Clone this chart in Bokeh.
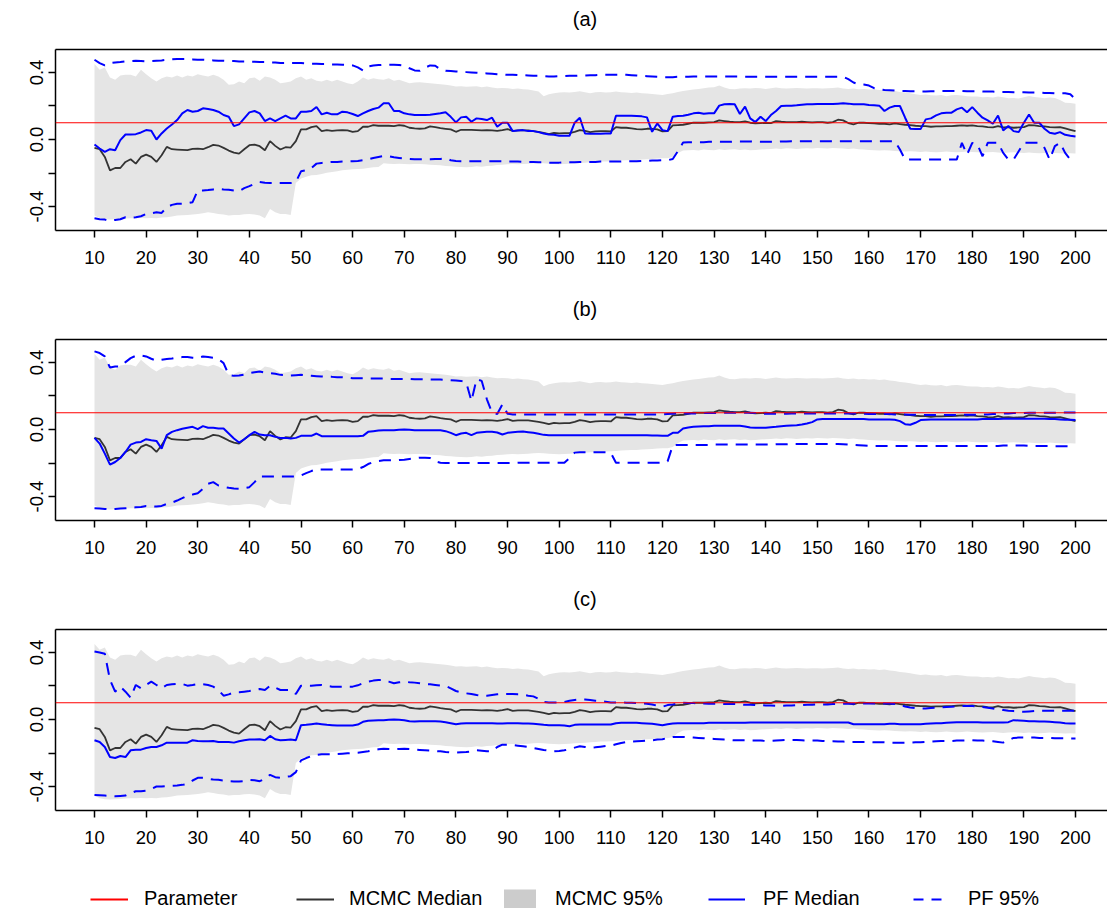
import numpy as np
from bokeh.plotting import figure
from bokeh.layouts import column
from bokeh.models import (ColumnDataSource, Span, FixedTicker, Range1d, Legend,
                          LegendItem, PrintfTickFormatter, Label, LinearAxis)
from bokeh.core.properties import value
from bokeh.embed import file_html
from bokeh.resources import INLINE

# ---------------------------------------------------------------- data
steps = list(range(10, 201))
parameter = 0.1
x_ticks = list(range(10, 201, 10))
y_label_ticks = [-0.4, 0.0, 0.4]
y_plain_ticks = [-0.2, 0.2]
panel_titles = ["(a)", "(b)", "(c)"]
legend_labels = ["Parameter", "MCMC Median", "MCMC 95%", "PF Median", "PF 95%"]

# MCMC posterior summaries (shared by all three panels)
mcmc_med = [
    -0.050, -0.058, -0.104, -0.184, -0.170, -0.170, -0.134, -0.118, -0.144, -0.104,
    -0.090, -0.104, -0.134, -0.094, -0.044, -0.058, -0.060, -0.062, -0.064, -0.056,
    -0.054, -0.058, -0.046, -0.032, -0.036, -0.050, -0.066, -0.078, -0.084, -0.058,
    -0.034, -0.030, -0.040, -0.064, -0.010, -0.038, -0.060, -0.046, -0.048, -0.010,
    0.060, 0.060, 0.074, 0.080, 0.050, 0.056, 0.052, 0.054, 0.056, 0.054,
    0.046, 0.050, 0.076, 0.076, 0.086, 0.082, 0.082, 0.082, 0.080, 0.086,
    0.082, 0.070, 0.066, 0.064, 0.066, 0.078, 0.074, 0.068, 0.064, 0.060,
    0.046, 0.058, 0.058, 0.058, 0.056, 0.054, 0.056, 0.054, 0.052, 0.056,
    0.062, 0.052, 0.054, 0.054, 0.054, 0.050, 0.046, 0.040, 0.032, 0.040,
    0.036, 0.038, 0.038, 0.046, 0.056, 0.052, 0.044, 0.048, 0.050, 0.050,
    0.048, 0.074, 0.070, 0.070, 0.066, 0.062, 0.060, 0.064, 0.064, 0.060,
    0.048, 0.050, 0.084, 0.086, 0.088, 0.094, 0.100, 0.100, 0.100, 0.102,
    0.104, 0.114, 0.110, 0.106, 0.104, 0.104, 0.108, 0.100, 0.096, 0.098,
    0.100, 0.098, 0.110, 0.106, 0.104, 0.104, 0.104, 0.106, 0.104, 0.102,
    0.104, 0.104, 0.100, 0.104, 0.118, 0.114, 0.098, 0.090, 0.100, 0.100,
    0.098, 0.096, 0.094, 0.094, 0.090, 0.096, 0.092, 0.088, 0.086, 0.082,
    0.080, 0.080, 0.076, 0.078, 0.078, 0.080, 0.080, 0.082, 0.084, 0.082,
    0.084, 0.080, 0.078, 0.074, 0.072, 0.080, 0.072, 0.074, 0.070, 0.072,
    0.074, 0.086, 0.084, 0.080, 0.078, 0.074, 0.072, 0.074, 0.066, 0.058,
    0.050,
]
mcmc_hi = [
    0.450, 0.416, 0.430, 0.370, 0.356, 0.382, 0.386, 0.386, 0.376, 0.416,
    0.390, 0.366, 0.346, 0.366, 0.376, 0.370, 0.382, 0.370, 0.382, 0.376,
    0.390, 0.382, 0.376, 0.386, 0.376, 0.356, 0.326, 0.330, 0.346, 0.336,
    0.366, 0.370, 0.350, 0.376, 0.370, 0.356, 0.336, 0.340, 0.346, 0.366,
    0.376, 0.356, 0.366, 0.350, 0.346, 0.356, 0.346, 0.356, 0.346, 0.336,
    0.330, 0.346, 0.370, 0.356, 0.366, 0.360, 0.356, 0.366, 0.350, 0.356,
    0.346, 0.336, 0.340, 0.342, 0.338, 0.336, 0.332, 0.330, 0.326, 0.322,
    0.316, 0.318, 0.314, 0.316, 0.318, 0.312, 0.316, 0.310, 0.306, 0.308,
    0.306, 0.302, 0.304, 0.300, 0.298, 0.292, 0.286, 0.258, 0.270, 0.276,
    0.280, 0.282, 0.280, 0.284, 0.288, 0.282, 0.276, 0.282, 0.284, 0.280,
    0.282, 0.286, 0.282, 0.280, 0.278, 0.280, 0.276, 0.274, 0.272, 0.268,
    0.266, 0.272, 0.276, 0.284, 0.290, 0.294, 0.298, 0.302, 0.306, 0.310,
    0.312, 0.322, 0.310, 0.302, 0.300, 0.304, 0.306, 0.304, 0.308, 0.306,
    0.302, 0.306, 0.310, 0.306, 0.304, 0.306, 0.308, 0.306, 0.304, 0.306,
    0.306, 0.304, 0.306, 0.308, 0.310, 0.304, 0.302, 0.304, 0.300, 0.302,
    0.298, 0.300, 0.296, 0.298, 0.292, 0.290, 0.284, 0.280, 0.276, 0.270,
    0.266, 0.268, 0.264, 0.262, 0.266, 0.258, 0.264, 0.266, 0.262, 0.258,
    0.256, 0.256, 0.252, 0.254, 0.250, 0.256, 0.252, 0.246, 0.248, 0.244,
    0.252, 0.260, 0.254, 0.250, 0.246, 0.250, 0.248, 0.236, 0.220, 0.218,
    0.214,
]
mcmc_lo = [
    -0.454, -0.470, -0.476, -0.478, -0.476, -0.474, -0.472, -0.470, -0.470, -0.468,
    -0.470, -0.468, -0.470, -0.466, -0.464, -0.460, -0.454, -0.452, -0.450, -0.448,
    -0.444, -0.440, -0.434, -0.438, -0.444, -0.448, -0.454, -0.450, -0.450, -0.446,
    -0.444, -0.448, -0.454, -0.470, -0.414, -0.434, -0.444, -0.444, -0.450, -0.260,
    -0.232, -0.222, -0.214, -0.212, -0.206, -0.198, -0.194, -0.190, -0.184, -0.180,
    -0.178, -0.176, -0.174, -0.170, -0.166, -0.164, -0.142, -0.144, -0.146, -0.144,
    -0.146, -0.148, -0.146, -0.146, -0.148, -0.150, -0.152, -0.154, -0.158, -0.160,
    -0.162, -0.164, -0.166, -0.164, -0.160, -0.162, -0.158, -0.156, -0.152, -0.150,
    -0.148, -0.146, -0.148, -0.146, -0.144, -0.142, -0.140, -0.142, -0.144, -0.146,
    -0.148, -0.146, -0.144, -0.142, -0.140, -0.138, -0.136, -0.134, -0.132, -0.132,
    -0.130, -0.128, -0.126, -0.124, -0.122, -0.122, -0.120, -0.118, -0.116, -0.114,
    -0.112, -0.112, -0.104, -0.080, -0.066, -0.064, -0.062, -0.066, -0.060, -0.062,
    -0.064, -0.058, -0.062, -0.060, -0.058, -0.062, -0.060, -0.064, -0.062, -0.060,
    -0.058, -0.056, -0.054, -0.056, -0.052, -0.054, -0.056, -0.054, -0.052, -0.054,
    -0.050, -0.052, -0.054, -0.050, -0.052, -0.054, -0.056, -0.054, -0.058, -0.060,
    -0.062, -0.064, -0.066, -0.064, -0.066, -0.068, -0.070, -0.072, -0.070, -0.072,
    -0.074, -0.072, -0.074, -0.076, -0.074, -0.072, -0.074, -0.076, -0.074, -0.072,
    -0.074, -0.076, -0.078, -0.076, -0.074, -0.078, -0.080, -0.078, -0.076, -0.078,
    -0.080, -0.078, -0.080, -0.082, -0.080, -0.078, -0.080, -0.082, -0.084, -0.082,
    -0.084,
]

# Particle-filter summaries, panel (a)
pfa_med = [
    -0.030, -0.054, -0.074, -0.058, -0.064, -0.004, 0.030, 0.030, 0.032, 0.042,
    0.056, 0.052, 0.000, 0.036, 0.066, 0.090, 0.116, 0.156, 0.176, 0.166,
    0.170, 0.186, 0.182, 0.176, 0.166, 0.146, 0.136, 0.080, 0.090, 0.126,
    0.162, 0.170, 0.156, 0.110, 0.126, 0.110, 0.126, 0.142, 0.126, 0.126,
    0.166, 0.166, 0.170, 0.194, 0.150, 0.160, 0.150, 0.150, 0.166, 0.162,
    0.152, 0.140, 0.156, 0.170, 0.182, 0.190, 0.216, 0.216, 0.170, 0.170,
    0.156, 0.150, 0.146, 0.146, 0.146, 0.148, 0.152, 0.156, 0.162, 0.135,
    0.102, 0.132, 0.136, 0.106, 0.126, 0.122, 0.116, 0.130, 0.076, 0.100,
    0.100, 0.050, 0.054, 0.056, 0.050, 0.050, 0.044, 0.036, 0.030, 0.028,
    0.022, 0.022, 0.022, 0.100, 0.130, 0.036, 0.034, 0.034, 0.034, 0.036,
    0.036, 0.142, 0.142, 0.142, 0.142, 0.140, 0.138, 0.132, 0.046, 0.096,
    0.056, 0.050, 0.136, 0.140, 0.142, 0.148, 0.156, 0.160, 0.154, 0.156,
    0.156, 0.202, 0.210, 0.212, 0.210, 0.152, 0.196, 0.126, 0.104, 0.136,
    0.110, 0.146, 0.170, 0.200, 0.202, 0.202, 0.204, 0.208, 0.210, 0.210,
    0.212, 0.212, 0.212, 0.212, 0.214, 0.216, 0.214, 0.210, 0.210, 0.210,
    0.206, 0.204, 0.202, 0.170, 0.190, 0.200, 0.200, 0.130, 0.064, 0.062,
    0.062, 0.120, 0.126, 0.144, 0.156, 0.160, 0.160, 0.180, 0.190, 0.163,
    0.193, 0.160, 0.130, 0.114, 0.094, 0.143, 0.054, 0.080, 0.050, 0.044,
    0.100, 0.149, 0.100, 0.100, 0.064, 0.040, 0.034, 0.044, 0.028, 0.022,
    0.018,
]
pfa_hi = [
    0.476, 0.456, 0.442, 0.456, 0.460, 0.462, 0.466, 0.468, 0.470, 0.468,
    0.466, 0.468, 0.470, 0.472, 0.476, 0.478, 0.480, 0.480, 0.480, 0.478,
    0.476, 0.476, 0.474, 0.472, 0.470, 0.470, 0.468, 0.468, 0.466, 0.466,
    0.464, 0.464, 0.462, 0.462, 0.460, 0.460, 0.456, 0.456, 0.456, 0.456,
    0.456, 0.454, 0.452, 0.452, 0.450, 0.450, 0.448, 0.448, 0.446, 0.446,
    0.442, 0.430, 0.412, 0.436, 0.442, 0.444, 0.446, 0.446, 0.446, 0.444,
    0.440, 0.425, 0.412, 0.410, 0.428, 0.442, 0.440, 0.418, 0.410, 0.408,
    0.406, 0.404, 0.402, 0.400, 0.398, 0.396, 0.394, 0.392, 0.390, 0.388,
    0.386, 0.386, 0.384, 0.384, 0.382, 0.380, 0.380, 0.378, 0.376, 0.376,
    0.378, 0.378, 0.380, 0.380, 0.382, 0.382, 0.384, 0.384, 0.386, 0.386,
    0.386, 0.386, 0.386, 0.386, 0.384, 0.382, 0.380, 0.378, 0.376, 0.374,
    0.372, 0.372, 0.372, 0.374, 0.374, 0.374, 0.376, 0.376, 0.376, 0.376,
    0.376, 0.376, 0.376, 0.376, 0.376, 0.376, 0.374, 0.374, 0.374, 0.374,
    0.374, 0.374, 0.374, 0.374, 0.374, 0.374, 0.374, 0.374, 0.374, 0.374,
    0.374, 0.374, 0.374, 0.374, 0.374, 0.374, 0.360, 0.340, 0.330, 0.328,
    0.322, 0.306, 0.300, 0.296, 0.294, 0.292, 0.290, 0.290, 0.288, 0.288,
    0.286, 0.286, 0.288, 0.288, 0.290, 0.290, 0.290, 0.290, 0.290, 0.288,
    0.288, 0.288, 0.286, 0.286, 0.286, 0.284, 0.284, 0.284, 0.282, 0.282,
    0.282, 0.280, 0.280, 0.280, 0.278, 0.278, 0.276, 0.276, 0.276, 0.270,
    0.240,
]
pfa_lo = [
    -0.470, -0.476, -0.478, -0.486, -0.480, -0.476, -0.464, -0.466, -0.464, -0.458,
    -0.444, -0.440, -0.434, -0.438, -0.404, -0.390, -0.384, -0.384, -0.380, -0.374,
    -0.304, -0.304, -0.302, -0.298, -0.294, -0.298, -0.300, -0.304, -0.308, -0.290,
    -0.278, -0.264, -0.254, -0.258, -0.260, -0.260, -0.260, -0.260, -0.260, -0.254,
    -0.190, -0.184, -0.170, -0.144, -0.140, -0.136, -0.134, -0.134, -0.132, -0.130,
    -0.130, -0.128, -0.124, -0.118, -0.110, -0.104, -0.098, -0.100, -0.106, -0.110,
    -0.114, -0.116, -0.118, -0.118, -0.118, -0.118, -0.116, -0.116, -0.112, -0.124,
    -0.128, -0.130, -0.130, -0.130, -0.130, -0.130, -0.130, -0.130, -0.130, -0.130,
    -0.132, -0.132, -0.132, -0.134, -0.134, -0.134, -0.136, -0.136, -0.138, -0.138,
    -0.138, -0.136, -0.136, -0.136, -0.134, -0.134, -0.134, -0.134, -0.132, -0.132,
    -0.132, -0.132, -0.132, -0.130, -0.130, -0.130, -0.128, -0.128, -0.126, -0.126,
    -0.124, -0.124, -0.116, -0.070, -0.018, -0.016, -0.016, -0.016, -0.016, -0.014,
    -0.014, -0.014, -0.014, -0.014, -0.012, -0.012, -0.012, -0.012, -0.014, -0.014,
    -0.014, -0.014, -0.014, -0.012, -0.012, -0.010, -0.010, -0.010, -0.010, -0.010,
    -0.010, -0.010, -0.010, -0.010, -0.010, -0.010, -0.010, -0.010, -0.010, -0.010,
    -0.010, -0.010, -0.010, -0.010, -0.010, -0.010, -0.060, -0.120, -0.120, -0.120,
    -0.120, -0.120, -0.120, -0.120, -0.120, -0.120, -0.120, -0.120, -0.020, -0.090,
    -0.020, -0.030, -0.100, -0.020, -0.020, -0.020, -0.080, -0.120, -0.120, -0.070,
    -0.020, -0.020, -0.020, -0.020, -0.050, -0.120, -0.040, -0.020, -0.080, -0.120,
    -0.120,
]

# Particle-filter summaries, panel (b)
pfb_med = [
    -0.050, -0.084, -0.144, -0.210, -0.194, -0.170, -0.134, -0.090, -0.078, -0.074,
    -0.058, -0.064, -0.068, -0.114, -0.034, -0.014, -0.004, 0.004, 0.010, 0.016,
    0.002, 0.020, 0.010, 0.010, 0.006, 0.006, -0.024, -0.054, -0.078, -0.058,
    -0.034, -0.014, -0.030, -0.034, -0.034, -0.044, -0.050, -0.050, -0.054, -0.050,
    -0.038, -0.038, -0.038, -0.024, -0.040, -0.040, -0.040, -0.040, -0.040, -0.040,
    -0.040, -0.040, -0.038, -0.014, -0.010, -0.006, -0.004, -0.004, -0.004, -0.002,
    0.000, -0.002, -0.004, -0.004, -0.004, -0.004, -0.004, -0.004, -0.010, -0.020,
    -0.034, -0.024, -0.020, -0.034, -0.020, -0.016, -0.014, -0.014, -0.018, -0.030,
    -0.020, -0.016, -0.014, -0.012, -0.016, -0.020, -0.026, -0.032, -0.034, -0.034,
    -0.034, -0.034, -0.034, -0.034, -0.034, -0.034, -0.034, -0.034, -0.034, -0.034,
    -0.034, -0.034, -0.034, -0.034, -0.034, -0.034, -0.034, -0.034, -0.036, -0.036,
    -0.038, -0.038, -0.020, -0.020, 0.006, 0.012, 0.016, 0.018, 0.020, 0.020,
    0.022, 0.022, 0.022, 0.022, 0.022, 0.022, 0.018, 0.012, 0.010, 0.010,
    0.010, 0.014, 0.016, 0.020, 0.022, 0.024, 0.026, 0.030, 0.036, 0.044,
    0.060, 0.062, 0.062, 0.062, 0.062, 0.062, 0.062, 0.062, 0.062, 0.062,
    0.060, 0.060, 0.060, 0.060, 0.060, 0.058, 0.050, 0.032, 0.028, 0.040,
    0.056, 0.058, 0.060, 0.060, 0.060, 0.060, 0.060, 0.060, 0.060, 0.060,
    0.060, 0.060, 0.062, 0.062, 0.062, 0.062, 0.064, 0.064, 0.064, 0.064,
    0.064, 0.064, 0.064, 0.064, 0.064, 0.062, 0.062, 0.060, 0.058, 0.058,
    0.056,
]
pfb_hi = [
    0.466, 0.456, 0.436, 0.370, 0.376, 0.376, 0.402, 0.426, 0.440, 0.442,
    0.436, 0.422, 0.410, 0.416, 0.420, 0.424, 0.430, 0.432, 0.432, 0.428,
    0.426, 0.436, 0.432, 0.428, 0.420, 0.396, 0.326, 0.320, 0.322, 0.328,
    0.336, 0.342, 0.346, 0.340, 0.336, 0.332, 0.326, 0.324, 0.322, 0.324,
    0.326, 0.322, 0.320, 0.318, 0.316, 0.314, 0.314, 0.312, 0.312, 0.310,
    0.306, 0.306, 0.306, 0.304, 0.304, 0.304, 0.304, 0.302, 0.302, 0.302,
    0.302, 0.302, 0.300, 0.300, 0.300, 0.298, 0.298, 0.298, 0.296, 0.294,
    0.292, 0.290, 0.280, 0.170, 0.300, 0.290, 0.180, 0.100, 0.092, 0.150,
    0.094, 0.090, 0.090, 0.090, 0.090, 0.090, 0.090, 0.090, 0.090, 0.090,
    0.090, 0.090, 0.090, 0.090, 0.090, 0.090, 0.090, 0.090, 0.090, 0.090,
    0.090, 0.090, 0.090, 0.090, 0.090, 0.090, 0.090, 0.090, 0.090, 0.090,
    0.090, 0.092, 0.094, 0.096, 0.096, 0.096, 0.096, 0.096, 0.098, 0.098,
    0.098, 0.098, 0.100, 0.100, 0.100, 0.100, 0.100, 0.100, 0.098, 0.096,
    0.094, 0.094, 0.094, 0.094, 0.094, 0.096, 0.096, 0.096, 0.096, 0.096,
    0.096, 0.096, 0.096, 0.096, 0.096, 0.096, 0.096, 0.096, 0.094, 0.094,
    0.092, 0.092, 0.092, 0.092, 0.092, 0.090, 0.090, 0.090, 0.088, 0.088,
    0.086, 0.086, 0.086, 0.086, 0.086, 0.086, 0.086, 0.086, 0.088, 0.088,
    0.088, 0.088, 0.090, 0.090, 0.092, 0.094, 0.096, 0.096, 0.098, 0.098,
    0.098, 0.100, 0.100, 0.100, 0.100, 0.100, 0.100, 0.102, 0.102, 0.102,
    0.102,
]
pfb_lo = [
    -0.470, -0.472, -0.474, -0.476, -0.474, -0.472, -0.470, -0.468, -0.464, -0.462,
    -0.456, -0.458, -0.460, -0.456, -0.444, -0.436, -0.424, -0.410, -0.394, -0.388,
    -0.380, -0.354, -0.324, -0.314, -0.334, -0.342, -0.348, -0.352, -0.354, -0.350,
    -0.344, -0.314, -0.280, -0.280, -0.280, -0.280, -0.280, -0.280, -0.280, -0.280,
    -0.274, -0.260, -0.248, -0.238, -0.238, -0.238, -0.238, -0.238, -0.238, -0.238,
    -0.238, -0.236, -0.224, -0.206, -0.194, -0.188, -0.184, -0.184, -0.184, -0.182,
    -0.180, -0.176, -0.172, -0.168, -0.168, -0.170, -0.190, -0.198, -0.200, -0.200,
    -0.200, -0.200, -0.200, -0.200, -0.200, -0.200, -0.200, -0.200, -0.200, -0.200,
    -0.200, -0.200, -0.198, -0.198, -0.198, -0.198, -0.198, -0.198, -0.198, -0.198,
    -0.198, -0.198, -0.170, -0.138, -0.136, -0.136, -0.136, -0.136, -0.136, -0.136,
    -0.140, -0.198, -0.198, -0.198, -0.198, -0.198, -0.198, -0.198, -0.198, -0.198,
    -0.198, -0.190, -0.094, -0.092, -0.092, -0.092, -0.092, -0.092, -0.092, -0.092,
    -0.090, -0.090, -0.090, -0.090, -0.090, -0.090, -0.090, -0.090, -0.090, -0.090,
    -0.090, -0.090, -0.088, -0.088, -0.088, -0.086, -0.086, -0.086, -0.086, -0.086,
    -0.086, -0.086, -0.086, -0.086, -0.086, -0.088, -0.090, -0.092, -0.094, -0.096,
    -0.098, -0.098, -0.098, -0.098, -0.098, -0.098, -0.098, -0.098, -0.098, -0.098,
    -0.098, -0.098, -0.098, -0.098, -0.098, -0.098, -0.098, -0.098, -0.098, -0.098,
    -0.098, -0.098, -0.098, -0.098, -0.098, -0.098, -0.096, -0.096, -0.096, -0.096,
    -0.096, -0.098, -0.098, -0.098, -0.098, -0.098, -0.100, -0.100, -0.100, -0.100,
    -0.100,
]

# Particle-filter summaries, panel (c)
pfc_med = [
    -0.124, -0.134, -0.164, -0.224, -0.230, -0.218, -0.224, -0.184, -0.180, -0.180,
    -0.170, -0.164, -0.164, -0.154, -0.138, -0.138, -0.138, -0.138, -0.138, -0.124,
    -0.128, -0.130, -0.130, -0.128, -0.134, -0.134, -0.134, -0.138, -0.130, -0.124,
    -0.120, -0.120, -0.118, -0.124, -0.098, -0.118, -0.124, -0.122, -0.120, -0.124,
    -0.034, -0.032, -0.028, -0.024, -0.028, -0.032, -0.034, -0.036, -0.036, -0.036,
    -0.036, -0.030, -0.014, -0.008, -0.006, -0.004, -0.004, -0.002, 0.000, -0.002,
    -0.004, -0.010, -0.012, -0.010, -0.010, -0.010, -0.010, -0.012, -0.016, -0.022,
    -0.028, -0.024, -0.022, -0.022, -0.022, -0.022, -0.022, -0.022, -0.024, -0.024,
    -0.022, -0.022, -0.022, -0.024, -0.024, -0.026, -0.028, -0.032, -0.034, -0.034,
    -0.034, -0.036, -0.040, -0.032, -0.030, -0.030, -0.030, -0.030, -0.030, -0.030,
    -0.030, -0.022, -0.020, -0.020, -0.020, -0.020, -0.022, -0.024, -0.026, -0.030,
    -0.034, -0.028, -0.024, -0.022, -0.022, -0.022, -0.022, -0.022, -0.022, -0.020,
    -0.020, -0.020, -0.020, -0.020, -0.020, -0.020, -0.020, -0.018, -0.018, -0.018,
    -0.018, -0.018, -0.018, -0.018, -0.018, -0.018, -0.018, -0.018, -0.018, -0.018,
    -0.018, -0.018, -0.018, -0.018, -0.018, -0.018, -0.018, -0.028, -0.028, -0.028,
    -0.028, -0.028, -0.028, -0.028, -0.026, -0.026, -0.028, -0.028, -0.028, -0.028,
    -0.028, -0.026, -0.024, -0.022, -0.022, -0.020, -0.018, -0.016, -0.016, -0.016,
    -0.016, -0.016, -0.018, -0.018, -0.018, -0.018, -0.018, -0.016, -0.004, -0.006,
    -0.008, -0.010, -0.010, -0.012, -0.012, -0.014, -0.016, -0.018, -0.022, -0.024,
    -0.024,
]
pfc_hi = [
    0.406, 0.400, 0.392, 0.236, 0.166, 0.196, 0.166, 0.130, 0.206, 0.186,
    0.206, 0.226, 0.206, 0.186, 0.206, 0.210, 0.212, 0.212, 0.202, 0.206,
    0.212, 0.210, 0.206, 0.196, 0.176, 0.142, 0.150, 0.162, 0.162, 0.166,
    0.170, 0.176, 0.182, 0.176, 0.202, 0.190, 0.176, 0.176, 0.176, 0.152,
    0.202, 0.202, 0.202, 0.204, 0.206, 0.200, 0.196, 0.196, 0.196, 0.196,
    0.196, 0.204, 0.216, 0.226, 0.232, 0.236, 0.236, 0.226, 0.216, 0.222,
    0.226, 0.222, 0.220, 0.216, 0.212, 0.210, 0.206, 0.202, 0.200, 0.186,
    0.170, 0.162, 0.156, 0.152, 0.146, 0.142, 0.142, 0.146, 0.150, 0.152,
    0.152, 0.152, 0.150, 0.148, 0.142, 0.138, 0.124, 0.104, 0.102, 0.102,
    0.102, 0.104, 0.112, 0.116, 0.120, 0.120, 0.116, 0.112, 0.110, 0.106,
    0.102, 0.102, 0.102, 0.100, 0.100, 0.098, 0.096, 0.094, 0.090, 0.082,
    0.076, 0.086, 0.090, 0.096, 0.100, 0.098, 0.098, 0.096, 0.096, 0.094,
    0.094, 0.094, 0.092, 0.092, 0.092, 0.090, 0.088, 0.088, 0.086, 0.086,
    0.084, 0.084, 0.082, 0.082, 0.084, 0.084, 0.086, 0.086, 0.088, 0.088,
    0.090, 0.090, 0.090, 0.092, 0.092, 0.094, 0.094, 0.094, 0.094, 0.096,
    0.096, 0.096, 0.096, 0.096, 0.096, 0.092, 0.086, 0.078, 0.072, 0.068,
    0.066, 0.066, 0.068, 0.070, 0.072, 0.074, 0.076, 0.078, 0.080, 0.080,
    0.080, 0.078, 0.074, 0.070, 0.066, 0.060, 0.056, 0.052, 0.050, 0.048,
    0.046, 0.048, 0.050, 0.052, 0.052, 0.052, 0.052, 0.052, 0.052, 0.052,
    0.052,
]
pfc_lo = [
    -0.450, -0.452, -0.454, -0.456, -0.458, -0.456, -0.454, -0.440, -0.428, -0.428,
    -0.424, -0.414, -0.400, -0.400, -0.398, -0.396, -0.394, -0.390, -0.384, -0.364,
    -0.348, -0.348, -0.354, -0.358, -0.360, -0.364, -0.368, -0.370, -0.370, -0.368,
    -0.360, -0.362, -0.368, -0.354, -0.330, -0.344, -0.348, -0.342, -0.338, -0.314,
    -0.244, -0.230, -0.218, -0.212, -0.208, -0.208, -0.208, -0.206, -0.204, -0.202,
    -0.200, -0.198, -0.194, -0.190, -0.184, -0.178, -0.174, -0.176, -0.178, -0.176,
    -0.174, -0.176, -0.180, -0.182, -0.184, -0.186, -0.188, -0.190, -0.194, -0.196,
    -0.198, -0.196, -0.194, -0.190, -0.184, -0.186, -0.190, -0.190, -0.164, -0.150,
    -0.150, -0.152, -0.156, -0.160, -0.164, -0.170, -0.176, -0.182, -0.186, -0.190,
    -0.188, -0.184, -0.176, -0.168, -0.160, -0.164, -0.168, -0.166, -0.162, -0.158,
    -0.156, -0.148, -0.140, -0.134, -0.132, -0.130, -0.128, -0.126, -0.124, -0.120,
    -0.118, -0.110, -0.104, -0.104, -0.104, -0.106, -0.108, -0.110, -0.112, -0.114,
    -0.116, -0.118, -0.120, -0.122, -0.124, -0.124, -0.124, -0.126, -0.126, -0.126,
    -0.128, -0.128, -0.126, -0.124, -0.122, -0.122, -0.122, -0.124, -0.126, -0.126,
    -0.126, -0.128, -0.130, -0.130, -0.132, -0.132, -0.134, -0.134, -0.134, -0.134,
    -0.134, -0.136, -0.136, -0.136, -0.138, -0.138, -0.138, -0.138, -0.138, -0.136,
    -0.136, -0.134, -0.132, -0.130, -0.128, -0.128, -0.128, -0.126, -0.126, -0.126,
    -0.124, -0.126, -0.126, -0.128, -0.130, -0.134, -0.138, -0.124, -0.110, -0.108,
    -0.108, -0.108, -0.108, -0.110, -0.110, -0.110, -0.112, -0.112, -0.112, -0.114,
    -0.114,
]

# ---------------------------------------------------------------- style
FONT = "Liberation Sans"
BAND = "#e5e5e5"
BAND_KEY = "#cccccc"
MCMC_COL = "#333333"
PF_COL = "#0000ff"
PAR_COL = "#ff0000"
DASH = "12 8"
W = 1107
FRAME_LEFT = 55
CAP_H = 36          # caption strip above each panel
PANEL_H = 254       # panel canvas below its caption
FRAME_TOP = 13
FRAME_H = 181
X_LO, X_HI = 2.447, 206.2
X_MID = 105.0       # centre of the full plotting region (part of it runs past the page edge)

mcmc_src = ColumnDataSource(dict(t=steps, med=mcmc_med, lo=mcmc_lo, hi=mcmc_hi))


def make_caption(text):
    c = figure(width=W, height=CAP_H, output_backend="svg", toolbar_location=None,
               x_range=Range1d(X_LO, X_HI), y_range=Range1d(0, 1),
               x_axis_type=None, y_axis_type=None,
               min_border_left=FRAME_LEFT, min_border_right=0,
               min_border_top=0, min_border_bottom=0)
    c.grid.visible = False
    c.outline_line_color = None
    c.add_layout(Label(x=X_MID, y=CAP_H - 18, y_units="screen", text=text,
                       text_align="center", text_baseline="middle",
                       text_font=FONT, text_font_size="20px", text_color="black"))
    return c


def make_panel(med, lo, hi):
    p = figure(width=W, height=PANEL_H, output_backend="svg", toolbar_location=None,
               x_range=Range1d(X_LO, X_HI), y_range=Range1d(-0.543, 0.537),
               min_border_left=FRAME_LEFT, min_border_right=0,
               min_border_top=FRAME_TOP, min_border_bottom=PANEL_H - FRAME_TOP - FRAME_H,
               background_fill_color="white", border_fill_color="white")
    p.grid.visible = False
    # box: left/bottom come from the axes, top from a bare axis; the right side
    # of the box lies beyond the page edge
    p.outline_line_color = None
    top_edge = LinearAxis(ticker=FixedTicker(ticks=[]), major_tick_line_color=None,
                          minor_tick_line_color=None, major_label_text_font_size="0px",
                          axis_line_color="black", axis_line_width=1.5)
    p.add_layout(top_edge, "above")

    pf_src = ColumnDataSource(dict(t=steps, med=med, lo=lo, hi=hi))

    p.varea(x="t", y1="lo", y2="hi", source=mcmc_src, fill_color=BAND)
    p.add_layout(Span(location=parameter, dimension="width",
                      line_color=PAR_COL, line_width=1.2))
    p.line("t", "med", source=mcmc_src, line_color=MCMC_COL, line_width=1.8)
    p.line("t", "hi", source=pf_src, line_color=PF_COL, line_width=2, line_dash=DASH)
    p.line("t", "lo", source=pf_src, line_color=PF_COL, line_width=2, line_dash=DASH)
    p.line("t", "med", source=pf_src, line_color=PF_COL, line_width=2)

    xa = p.below[0]
    xa.ticker = FixedTicker(ticks=x_ticks)
    ya = p.left[0]
    ya.ticker = FixedTicker(ticks=y_label_ticks, minor_ticks=y_plain_ticks)
    ya.formatter = PrintfTickFormatter(format="%.1f")
    ya.major_label_orientation = "parallel"
    for ax in (xa, ya):
        ax.axis_line_color = "black"
        ax.axis_line_width = 1.5
        ax.major_tick_line_color = "black"
        ax.major_tick_line_width = 1.5
        ax.major_tick_out = 7
        ax.major_tick_in = 0
        ax.major_label_text_font = FONT
        ax.major_label_text_font_size = "18.5px"
        ax.major_label_text_color = "black"
    xa.minor_tick_line_color = None
    xa.major_label_standoff = 13
    ya.minor_tick_line_color = "black"
    ya.minor_tick_line_width = 1.5
    ya.minor_tick_out = 7
    ya.minor_tick_in = 0
    ya.major_label_standoff = 5
    return p


rows = []
for title, (med, lo, hi) in zip(panel_titles, [(pfa_med, pfa_lo, pfa_hi),
                                               (pfb_med, pfb_lo, pfb_hi),
                                               (pfc_med, pfc_lo, pfc_hi)]):
    rows.append(make_caption(title))
    rows.append(make_panel(med, lo, hi))

# ---------------------------------------------------------------- legend strip
leg = figure(width=W, height=38, output_backend="svg", toolbar_location=None,
             x_range=Range1d(0, 1), y_range=Range1d(0, 1),
             x_axis_type=None, y_axis_type=None,
             min_border_left=FRAME_LEFT, min_border_right=0,
             min_border_top=0, min_border_bottom=0)
leg.grid.visible = False
leg.outline_line_color = None
# key renderers carry no drawable points; they only lend their style to the legend
blank = ColumnDataSource(dict(x=[float("nan")], y=[float("nan")]))
keys = [
    leg.line("x", "y", source=blank, line_color=PAR_COL, line_width=2),
    leg.line("x", "y", source=blank, line_color=MCMC_COL, line_width=2),
    leg.line("x", "y", source=blank, line_color=BAND_KEY, line_width=20,
             line_cap="round", line_join="round"),
    leg.line("x", "y", source=blank, line_color=PF_COL, line_width=2),
    leg.line("x", "y", source=blank, line_color=PF_COL, line_width=2, line_dash="10 8"),
]
# (glyph left edge on the page, glyph width, gap to text)
key_layout = [(90, 38, 16), (296, 38, 15), (504, 32, 19), (708, 37, 18), (913, 36, 19)]
for r, lab, (x0, gw, gap) in zip(keys, legend_labels, key_layout):
    lg = Legend(items=[LegendItem(label=value(lab), renderers=[r])],
                location=(x0 - FRAME_LEFT, -2), orientation="horizontal",
                glyph_width=gw, glyph_height=20, label_height=20,
                label_standoff=gap, padding=0, margin=0, spacing=0,
                border_line_color=None, background_fill_alpha=0,
                label_text_font=FONT, label_text_font_size="20px",
                label_text_color="black")
    leg.add_layout(lg)

page = column(*rows, leg, spacing=0)
open("out.html", "w").write(file_html(page, INLINE))
